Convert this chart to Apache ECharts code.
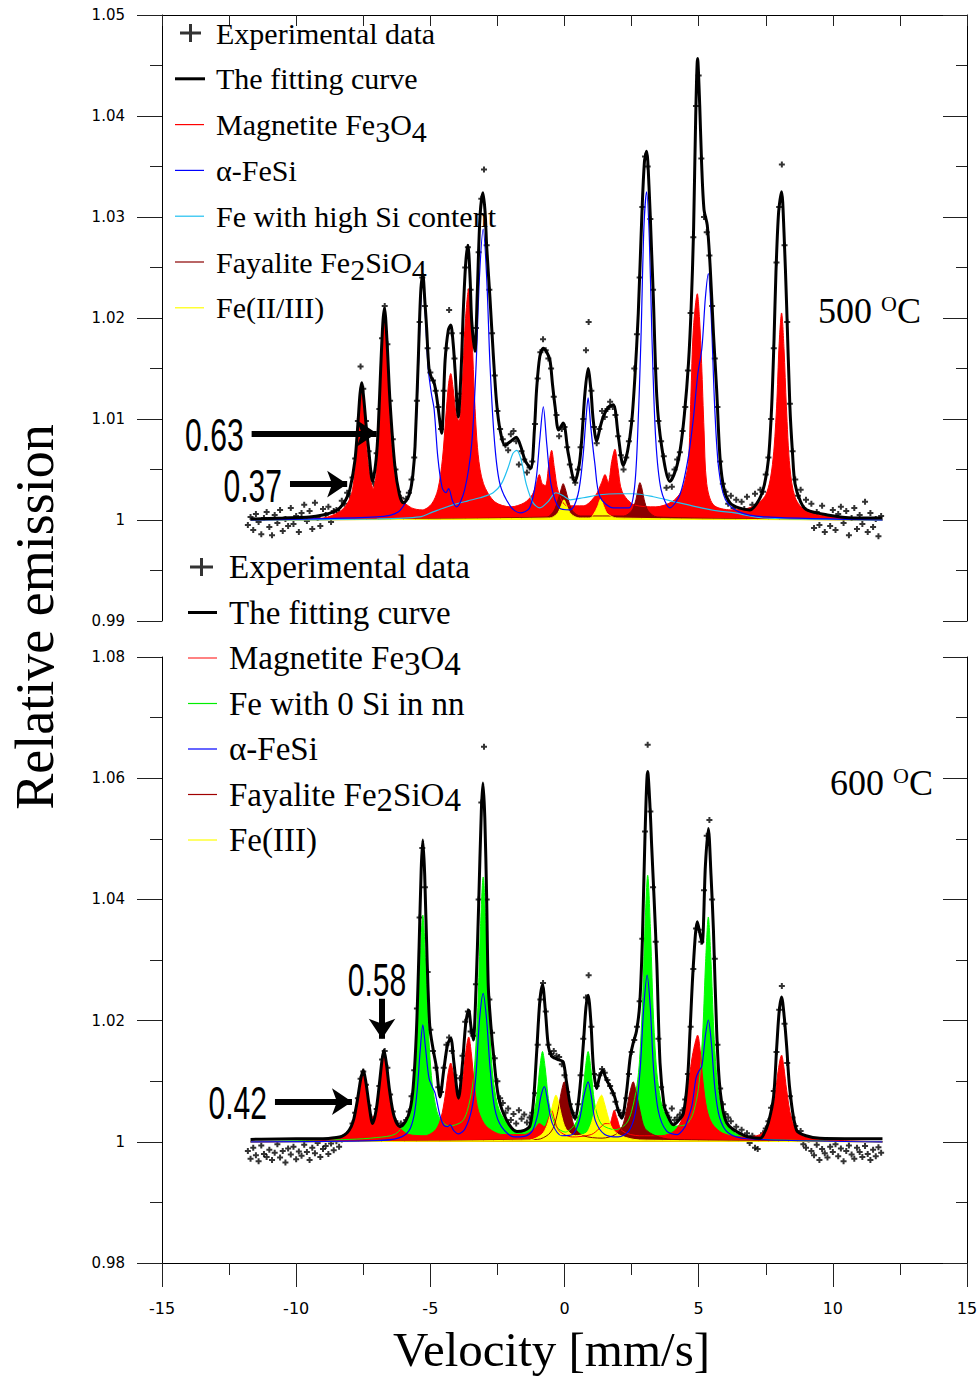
<!DOCTYPE html>
<html>

	<head>
		<meta charset="utf-8">
		<title>Mössbauer 500 / 600 oC</title>
		<script src="https://cdn.jsdelivr.net/npm/echarts@6/dist/echarts.min.js"></script>
		<style>
			body { margin: 0; background: #fff; }
		</style>
	</head>

	<body>
		<div id="res" style="width: 980px;height: 1378px;"></div>
		<script>
			// velocity channels of the measured spectra (mm/s)
			var velStart = -11.8;
			var velStep = 0.1;

			// 500 oC experimental data, one value per channel
			var exp500 = [
				0.9995, 1.0003, 0.9990, 1.0006, 0.9998, 0.9986, 1.0002, 1.0008, 0.9993, 0.9985,
				1.0005, 0.9997, 1.0010, 0.9989, 1.0001, 0.9994, 1.0012, 0.9996, 1.0004, 0.9988,
				1.0007, 1.0015, 0.9999, 1.0009, 0.9991, 1.0017, 1.0002, 0.9994, 1.0011, 1.0005,
				1.0013, 0.9998, 1.0009, 1.0010, 1.0007, 1.0019, 1.0016, 1.0027, 1.0024, 1.0042,
				1.0061, 1.0098, 1.0152, 1.0130, 1.0098, 1.0068, 1.0046, 1.0036, 1.0066, 1.0110,
				1.0180, 1.0212, 1.0174, 1.0118, 1.0080, 1.0050, 1.0028, 1.0022, 1.0010, 1.0021,
				1.0027, 1.0040, 1.0062, 1.0118, 1.0196, 1.0240, 1.0212, 1.0170, 1.0146, 1.0138,
				1.0128, 1.0112, 1.0090, 1.0128, 1.0170, 1.0208, 1.0185, 1.0160, 1.0118, 1.0125,
				1.0185, 1.0250, 1.0270, 1.0228, 1.0180, 1.0190, 1.0265, 1.0318, 1.0347, 1.0272,
				1.0228, 1.0185, 1.0143, 1.0108, 1.0090, 1.0080, 1.0074, 1.0069, 1.0085, 1.0088,
				1.0078, 1.0055, 1.0068, 1.0060, 1.0047, 1.0052, 1.0058, 1.0095, 1.0140, 1.0166,
				1.0179, 1.0168, 1.0160, 1.0150, 1.0122, 1.0104, 1.0083, 1.0090, 1.0092, 1.0072,
				1.0055, 1.0042, 1.0037, 1.0050, 1.0072, 1.0100, 1.0168, 1.0196, 1.0128, 1.0092,
				1.0076, 1.0090, 1.0108, 1.0102, 1.0110, 1.0117, 1.0112, 1.0104, 1.0083, 1.0064,
				1.0050, 1.0062, 1.0078, 1.0098, 1.0150, 1.0184, 1.0240, 1.0310, 1.0360, 1.0350,
				1.0298, 1.0228, 1.0150, 1.0098, 1.0078, 1.0063, 1.0032, 1.0044, 1.0033, 1.0050,
				1.0060, 1.0067, 1.0088, 1.0112, 1.0148, 1.0205, 1.0280, 1.0410, 1.0440, 1.0358,
				1.0300, 1.0285, 1.0262, 1.0212, 1.0160, 1.0112, 1.0058, 1.0036, 1.0028, 1.0016,
				1.0024, 1.0012, 1.0020, 1.0006, 1.0018, 1.0011, 1.0023, 1.0004, 1.0015, 1.0026,
				1.0012, 1.0030, 1.0028, 1.0045, 1.0062, 1.0100, 1.0170, 1.0255, 1.0310, 1.0352,
				1.0272, 1.0196, 1.0115, 1.0068, 1.0040, 1.0024, 1.0030, 1.0012, 1.0020, 1.0004,
				1.0016, 0.9992, 1.0008, 0.9995, 1.0014, 0.9988, 1.0003, 0.9994, 1.0010, 0.9990,
				1.0006, 1.0013, 0.9997, 1.0009, 0.9985, 1.0002, 1.0012, 0.9991, 1.0005, 0.9996,
				1.0018, 0.9988, 1.0007, 0.9993, 1.0001, 0.9984, 1.0004
			];

			// 600 oC experimental data, one value per channel
			var exp600 = [
				0.9985, 0.9972, 0.9990, 0.9978, 0.9968, 0.9994, 0.9980, 0.9975, 0.9987, 0.9970,
				0.9982, 0.9996, 0.9974, 0.9985, 0.9966, 0.9989, 0.9979, 0.9992, 0.9971, 0.9984,
				0.9977, 0.9995, 0.9983, 0.9970, 0.9990, 0.9981, 0.9998, 0.9975, 0.9988, 0.9993,
				0.9980, 0.9997, 0.9986, 1.0001, 0.9992, 1.0004, 1.0008, 1.0012, 1.0016, 1.0030,
				1.0048, 1.0072, 1.0104, 1.0116, 1.0094, 1.0060, 1.0040, 1.0032, 1.0054, 1.0092,
				1.0136, 1.0150, 1.0122, 1.0078, 1.0050, 1.0034, 1.0024, 1.0030, 1.0028, 1.0036,
				1.0050, 1.0075, 1.0118, 1.0220, 1.0370, 1.0485, 1.0420, 1.0280, 1.0185, 1.0150,
				1.0122, 1.0090, 1.0082, 1.0122, 1.0160, 1.0172, 1.0150, 1.0110, 1.0076, 1.0105,
				1.0142, 1.0198, 1.0215, 1.0182, 1.0175, 1.0260, 1.0400, 1.0560, 1.0652, 1.0400,
				1.0235, 1.0180, 1.0138, 1.0100, 1.0072, 1.0064, 1.0048, 1.0055, 1.0036, 1.0046,
				1.0030, 1.0052, 1.0038, 1.0045, 1.0032, 1.0040, 1.0048, 1.0080, 1.0160, 1.0235,
				1.0262, 1.0215, 1.0160, 1.0145, 1.0150, 1.0142, 1.0140, 1.0128, 1.0110, 1.0082,
				1.0062, 1.0048, 1.0040, 1.0062, 1.0110, 1.0170, 1.0238, 1.0275, 1.0190, 1.0112,
				1.0092, 1.0110, 1.0120, 1.0114, 1.0102, 1.0092, 1.0080, 1.0066, 1.0052, 1.0044,
				1.0048, 1.0072, 1.0112, 1.0148, 1.0168, 1.0190, 1.0232, 1.0335, 1.0512, 1.0655,
				1.0545, 1.0420, 1.0330, 1.0170, 1.0090, 1.0060, 1.0048, 1.0040, 1.0055, 1.0036,
				1.0040, 1.0045, 1.0052, 1.0070, 1.0112, 1.0190, 1.0285, 1.0352, 1.0350, 1.0330,
				1.0415, 1.0505, 1.0531, 1.0400, 1.0302, 1.0160, 1.0088, 1.0062, 1.0046, 1.0040,
				1.0034, 1.0018, 1.0025, 1.0012, 1.0020, 1.0006, 1.0014, 0.9998, 1.0010, 0.9990,
				0.9988, 1.0006, 1.0014, 1.0022, 1.0034, 1.0056, 1.0084, 1.0148, 1.0218, 1.0257,
				1.0195, 1.0130, 1.0075, 1.0040, 1.0026, 1.0012, 1.0018, 0.9996, 0.9990, 1.0004,
				0.9985, 0.9978, 0.9995, 0.9970, 0.9988, 0.9981, 0.9974, 0.9992, 0.9983, 0.9996,
				0.9976, 0.9989, 0.9968, 0.9985, 0.9994, 0.9979, 0.9972, 0.9990, 0.9983, 0.9975,
				0.9993, 0.9980, 0.9970, 0.9987, 0.9976, 0.9991, 0.9982
			];

			// 500 oC: fitting curve and sub-spectra, [velocity, relative emission]
			var fit500 = [[-11.7,1.0001],[-10.5,1.0002],[-9.5,1.0003],[-9.0,1.0005],[-8.6,1.0008],[-8.37,1.0012],[-8.15,1.0020],[-8.0,1.0030],[-7.81,1.0059],[-7.7,1.0095],[-7.62,1.0125],[-7.56,1.0136],[-7.48,1.0120],[-7.38,1.0090],[-7.31,1.0073],[-7.15,1.0038],[-7.02,1.0060],[-6.94,1.0092],[-6.85,1.0150],[-6.77,1.0195],[-6.71,1.0210],[-6.62,1.0180],[-6.50,1.0116],[-6.32,1.0053],[-6.15,1.0025],[-6.01,1.0017],[-5.88,1.0020],[-5.76,1.0027],[-5.65,1.0045],[-5.57,1.0073],[-5.45,1.0158],[-5.36,1.0225],[-5.28,1.0243],[-5.20,1.0215],[-5.14,1.0191],[-5.05,1.0150],[-4.95,1.0140],[-4.87,1.0137],[-4.78,1.0125],[-4.70,1.0109],[-4.58,1.0086],[-4.45,1.0158],[-4.33,1.0188],[-4.24,1.0193],[-4.15,1.0175],[-4.08,1.0149],[-3.96,1.0102],[-3.85,1.0150],[-3.77,1.0208],[-3.68,1.0255],[-3.60,1.0272],[-3.52,1.0240],[-3.46,1.0198],[-3.34,1.0167],[-3.25,1.0225],[-3.15,1.0300],[-3.04,1.0324],[-2.96,1.0305],[-2.90,1.0271],[-2.78,1.0221],[-2.65,1.0162],[-2.53,1.0116],[-2.40,1.0089],[-2.22,1.0074],[-2.00,1.0078],[-1.80,1.0082],[-1.62,1.0072],[-1.47,1.0059],[-1.26,1.0051],[-1.12,1.0090],[-1.04,1.0129],[-0.92,1.0162],[-0.79,1.0170],[-0.66,1.0166],[-0.54,1.0158],[-0.45,1.0135],[-0.35,1.0112],[-0.22,1.0089],[-0.05,1.0096],[0.14,1.0066],[0.39,1.0038],[0.55,1.0055],[0.64,1.0079],[0.76,1.0125],[0.88,1.0150],[0.98,1.0130],[1.07,1.0099],[1.20,1.0078],[1.33,1.0092],[1.47,1.0104],[1.65,1.0112],[1.82,1.0114],[2.01,1.0082],[2.19,1.0054],[2.35,1.0068],[2.50,1.0096],[2.62,1.0140],[2.75,1.0205],[2.88,1.0300],[2.98,1.0355],[3.06,1.0365],[3.15,1.0330],[3.24,1.0270],[3.31,1.0221],[3.44,1.0122],[3.62,1.0073],[3.93,1.0038],[4.15,1.0050],[4.31,1.0069],[4.47,1.0105],[4.62,1.0155],[4.72,1.0210],[4.81,1.0287],[4.89,1.0400],[4.96,1.0457],[5.04,1.0410],[5.11,1.0353],[5.20,1.0307],[5.32,1.0292],[5.43,1.0250],[5.55,1.0185],[5.67,1.0129],[5.80,1.0060],[5.95,1.0030],[6.17,1.0017],[6.50,1.0012],[6.91,1.0010],[7.25,1.0020],[7.45,1.0035],[7.60,1.0060],[7.72,1.0112],[7.81,1.0180],[7.88,1.0245],[7.98,1.0305],[8.09,1.0325],[8.18,1.0285],[8.28,1.0211],[8.40,1.0112],[8.50,1.0065],[8.59,1.0036],[8.80,1.0018],[9.03,1.0010],[9.80,1.0005],[10.76,1.0002],[11.85,1.0002]];
			var magnetite500 = [[-11.7,1.0],[-9.0,1.0002],[-8.4,1.0008],[-8.1,1.0016],[-7.9,1.0030],[-7.75,1.0068],[-7.65,1.0105],[-7.56,1.0131],[-7.46,1.0105],[-7.36,1.0068],[-7.24,1.0042],[-7.13,1.0031],[-7.02,1.0045],[-6.92,1.0080],[-6.84,1.0135],[-6.77,1.0182],[-6.71,1.0207],[-6.64,1.0182],[-6.56,1.0130],[-6.45,1.0075],[-6.28,1.0038],[-6.05,1.0020],[-5.7,1.0012],[-5.3,1.0010],[-4.95,1.0016],[-4.72,1.0030],[-4.55,1.0060],[-4.43,1.0100],[-4.32,1.0135],[-4.24,1.0145],[-4.15,1.0130],[-4.04,1.0105],[-3.93,1.0098],[-3.82,1.0130],[-3.70,1.0195],[-3.57,1.0229],[-3.46,1.0190],[-3.36,1.0125],[-3.22,1.0065],[-3.02,1.0036],[-2.6,1.0018],[-2.0,1.0013],[-1.5,1.0017],[-1.2,1.0025],[-1.05,1.0036],[-0.94,1.0045],[-0.83,1.0036],[-0.71,1.0034],[-0.58,1.0056],[-0.48,1.0069],[-0.38,1.0052],[-0.22,1.0027],[0.1,1.0014],[0.7,1.0014],[1.15,1.0024],[1.38,1.0037],[1.51,1.0045],[1.63,1.0037],[1.76,1.0058],[1.88,1.0070],[1.99,1.0052],[2.15,1.0028],[2.6,1.0015],[3.4,1.0013],[4.0,1.0018],[4.35,1.0028],[4.5,1.0040],[4.62,1.0058],[4.71,1.0122],[4.80,1.0188],[4.95,1.0224],[5.03,1.0200],[5.11,1.0155],[5.20,1.0089],[5.30,1.0036],[5.55,1.0015],[6.2,1.0010],[7.0,1.0013],[7.5,1.0025],[7.75,1.0055],[7.90,1.0110],[8.00,1.0175],[8.09,1.0205],[8.18,1.0170],[8.27,1.0112],[8.40,1.0052],[8.60,1.0022],[9.0,1.0009],[10.0,1.0003],[11.85,1.0]];
			var feSi500 = [[-11.7,1.0],[-7.0,1.0003],[-6.2,1.0008],[-5.8,1.0025],[-5.6,1.0060],[-5.48,1.0125],[-5.38,1.0200],[-5.28,1.0243],[-5.18,1.0200],[-5.08,1.0150],[-4.96,1.0125],[-4.86,1.0110],[-4.72,1.0062],[-4.56,1.0032],[-4.42,1.0027],[-4.32,1.0031],[-4.16,1.0018],[-4.02,1.0013],[-3.72,1.0030],[-3.46,1.0075],[-3.30,1.0150],[-3.17,1.0240],[-3.03,1.0288],[-2.90,1.0240],[-2.77,1.0150],[-2.60,1.0075],[-2.40,1.0035],[-2.00,1.0013],[-1.66,1.0007],[-1.30,1.0012],[-1.06,1.0040],[-0.92,1.0080],[-0.79,1.0112],[-0.66,1.0075],[-0.50,1.0035],[-0.20,1.0012],[0.20,1.0010],[0.50,1.0025],[0.68,1.0060],[0.80,1.0100],[0.88,1.0121],[0.98,1.0092],[1.13,1.0056],[1.32,1.0023],[1.82,1.0012],[2.40,1.0012],[2.60,1.0030],[2.72,1.0080],[2.85,1.0180],[2.96,1.0290],[3.06,1.0325],[3.16,1.0280],[3.26,1.0180],[3.40,1.0080],[3.60,1.0030],[3.93,1.0012],[4.30,1.0025],[4.60,1.0060],[4.80,1.0100],[4.97,1.0145],[5.12,1.0170],[5.25,1.0220],[5.36,1.0244],[5.47,1.0200],[5.60,1.0110],[5.75,1.0050],[6.00,1.0020],[6.50,1.0008],[7.50,1.0003],[11.85,1.0]];
			var highSi500 = [[-11.7,1.0],[-7.0,1.0001],[-5.4,1.0003],[-4.9,1.0008],[-4.16,1.0015],[-3.6,1.0019],[-3.15,1.0022],[-2.66,1.0027],[-2.35,1.0036],[-2.1,1.0052],[-1.92,1.0066],[-1.78,1.0069],[-1.62,1.0060],[-1.42,1.0035],[-1.17,1.0017],[-0.92,1.0012],[-0.62,1.0018],[-0.32,1.0027],[-0.05,1.0024],[0.21,1.0020],[0.7,1.0022],[1.32,1.0025],[2.0,1.0026],[2.56,1.0026],[3.31,1.0023],[4.1,1.0018],[4.93,1.0013],[5.7,1.0009],[6.35,1.0007],[6.9,1.0004],[7.4,1.0002],[8.5,1.0001],[11.85,1.0]];
			var fayalite500 = [[-11.7,1.0],[-0.65,1.0003],[-0.40,1.0009],[-0.24,1.0020],[-0.12,1.0031],[-0.05,1.0036],[0.03,1.0031],[0.14,1.0020],[0.30,1.0009],[0.6,1.0004],[2.2,1.0004],[2.5,1.0009],[2.66,1.0020],[2.75,1.0032],[2.81,1.0037],[2.88,1.0032],[2.97,1.0020],[3.12,1.0009],[3.45,1.0003],[11.85,1.0]];
			var fe23_500 = [[-11.7,1.0],[-0.55,1.0002],[-0.28,1.0006],[-0.14,1.0013],[-0.02,1.0020],[0.10,1.0013],[0.24,1.0006],[0.55,1.0002],[0.95,1.0002],[1.09,1.0006],[1.23,1.0013],[1.35,1.0021],[1.47,1.0013],[1.61,1.0006],[1.95,1.0002],[11.85,1.0]];

			// 600 oC: fitting curve and sub-spectra
			var fit600 = [[-11.7,1.0004],[-10.0,1.0005],[-9.0,1.0005],[-8.5,1.0007],[-8.3,1.0009],[-8.1,1.0015],[-7.95,1.0025],[-7.85,1.0038],[-7.72,1.0068],[-7.60,1.0102],[-7.50,1.0118],[-7.40,1.0098],[-7.28,1.0060],[-7.15,1.0030],[-7.02,1.0052],[-6.90,1.0095],[-6.80,1.0135],[-6.73,1.0151],[-6.64,1.0130],[-6.52,1.0085],[-6.35,1.0042],[-6.13,1.0025],[-5.92,1.0034],[-5.76,1.0052],[-5.64,1.0090],[-5.52,1.0180],[-5.42,1.0320],[-5.34,1.0450],[-5.28,1.0498],[-5.21,1.0440],[-5.12,1.0300],[-5.02,1.0190],[-4.89,1.0151],[-4.77,1.0122],[-4.64,1.0074],[-4.50,1.0118],[-4.36,1.0160],[-4.24,1.0171],[-4.12,1.0130],[-3.95,1.0072],[-3.80,1.0130],[-3.68,1.0195],[-3.57,1.0217],[-3.48,1.0188],[-3.40,1.0168],[-3.30,1.0250],[-3.20,1.0390],[-3.10,1.0545],[-3.04,1.0592],[-2.97,1.0535],[-2.90,1.0400],[-2.84,1.0256],[-2.74,1.0190],[-2.65,1.0146],[-2.46,1.0074],[-2.16,1.0036],[-1.78,1.0017],[-1.50,1.0019],[-1.29,1.0026],[-1.16,1.0065],[-1.04,1.0146],[-0.92,1.0232],[-0.82,1.0259],[-0.71,1.0215],[-0.60,1.0157],[-0.48,1.0141],[-0.36,1.0138],[-0.20,1.0135],[-0.05,1.0132],[0.08,1.0097],[0.22,1.0060],[0.39,1.0039],[0.55,1.0078],[0.70,1.0160],[0.80,1.0222],[0.88,1.0242],[0.98,1.0200],[1.08,1.0122],[1.20,1.0088],[1.30,1.0106],[1.42,1.0118],[1.55,1.0104],[1.70,1.0091],[1.85,1.0077],[2.00,1.0052],[2.13,1.0039],[2.30,1.0078],[2.45,1.0140],[2.56,1.0163],[2.68,1.0182],[2.80,1.0225],[2.90,1.0330],[3.00,1.0505],[3.10,1.0611],[3.19,1.0550],[3.25,1.0487],[3.34,1.0400],[3.44,1.0295],[3.56,1.0130],[3.70,1.0064],[3.81,1.0047],[4.06,1.0028],[4.25,1.0035],[4.43,1.0047],[4.58,1.0100],[4.68,1.0184],[4.80,1.0290],[4.95,1.0363],[5.05,1.0343],[5.13,1.0328],[5.25,1.0455],[5.36,1.0517],[5.46,1.0440],[5.55,1.0350],[5.67,1.0184],[5.80,1.0085],[6.05,1.0031],[6.67,1.0011],[7.29,1.0006],[7.41,1.0011],[7.60,1.0032],[7.79,1.0074],[7.91,1.0157],[8.00,1.0215],[8.09,1.0239],[8.18,1.0210],[8.28,1.0157],[8.40,1.0085],[8.65,1.0019],[9.00,1.0010],[9.52,1.0006],[11.85,1.0005]];
			var fe0Si600 = [[-11.7,1.0],[-8.0,1.0004],[-7.0,1.0007],[-6.3,1.0013],[-5.88,1.0037],[-5.68,1.0075],[-5.58,1.0115],[-5.48,1.0187],[-5.38,1.0300],[-5.28,1.0374],[-5.18,1.0300],[-5.08,1.0191],[-4.98,1.0119],[-4.88,1.0079],[-4.68,1.0041],[-4.30,1.0026],[-3.83,1.0033],[-3.63,1.0050],[-3.43,1.0092],[-3.33,1.0138],[-3.23,1.0222],[-3.13,1.0355],[-3.03,1.0437],[-2.93,1.0355],[-2.83,1.0222],[-2.73,1.0140],[-2.63,1.0094],[-2.43,1.0052],[-2.03,1.0025],[-1.60,1.0017],[-1.30,1.0028],[-1.12,1.0051],[-1.02,1.0078],[-0.92,1.0122],[-0.82,1.0149],[-0.72,1.0122],[-0.62,1.0078],[-0.52,1.0051],[-0.30,1.0025],[0.03,1.0016],[0.38,1.0028],[0.58,1.0051],[0.68,1.0078],[0.78,1.0122],[0.88,1.0149],[0.98,1.0122],[1.08,1.0078],[1.18,1.0051],[1.40,1.0028],[1.90,1.0020],[2.30,1.0030],[2.50,1.0050],[2.70,1.0093],[2.80,1.0136],[2.90,1.0222],[3.00,1.0355],[3.10,1.0440],[3.20,1.0355],[3.30,1.0222],[3.40,1.0138],[3.50,1.0092],[3.70,1.0050],[4.10,1.0026],[4.50,1.0028],[4.76,1.0043],[4.96,1.0079],[5.06,1.0118],[5.16,1.0188],[5.26,1.0298],[5.36,1.0371],[5.46,1.0297],[5.56,1.0186],[5.66,1.0115],[5.76,1.0075],[5.96,1.0037],[6.36,1.0014],[7.0,1.0006],[8.0,1.0003],[11.85,1.0]];
			var magnetite600 = [[-11.7,1.0],[-9.0,1.0002],[-8.4,1.0008],[-8.1,1.0015],[-7.9,1.0028],[-7.75,1.0050],[-7.65,1.0078],[-7.58,1.0100],[-7.50,1.0115],[-7.42,1.0098],[-7.32,1.0066],[-7.15,1.0040],[-7.00,1.0055],[-6.90,1.0085],[-6.80,1.0130],[-6.73,1.0148],[-6.65,1.0128],[-6.55,1.0090],[-6.40,1.0050],[-6.20,1.0026],[-5.80,1.0012],[-5.20,1.0010],[-4.80,1.0020],[-4.60,1.0040],[-4.45,1.0075],[-4.34,1.0112],[-4.24,1.0130],[-4.14,1.0112],[-4.02,1.0080],[-3.91,1.0078],[-3.80,1.0100],[-3.68,1.0148],[-3.57,1.0173],[-3.47,1.0145],[-3.35,1.0090],[-3.20,1.0050],[-2.90,1.0025],[-2.30,1.0012],[-1.50,1.0012],[-1.10,1.0022],[-0.94,1.0030],[-0.75,1.0025],[-0.60,1.0038],[-0.48,1.0052],[-0.38,1.0038],[-0.20,1.0018],[0.30,1.0008],[1.00,1.0012],[1.30,1.0022],[1.51,1.0030],[1.68,1.0030],[1.78,1.0042],[1.85,1.0052],[1.95,1.0040],[2.15,1.0018],[2.80,1.0010],[3.60,1.0010],[4.10,1.0018],[4.40,1.0040],[4.60,1.0090],[4.74,1.0135],[4.85,1.0160],[4.96,1.0176],[5.06,1.0150],[5.16,1.0100],[5.30,1.0055],[5.50,1.0030],[5.90,1.0014],[6.60,1.0008],[7.30,1.0012],[7.60,1.0030],[7.80,1.0062],[7.94,1.0110],[8.03,1.0135],[8.09,1.0143],[8.17,1.0125],[8.28,1.0085],[8.45,1.0040],[8.70,1.0015],[9.30,1.0005],[11.85,1.0]];
			var feSi600 = [[-11.7,1.0],[-7.0,1.0002],[-6.2,1.0006],[-5.8,1.0018],[-5.6,1.0045],[-5.48,1.0090],[-5.38,1.0150],[-5.28,1.0193],[-5.18,1.0155],[-5.05,1.0105],[-4.92,1.0090],[-4.82,1.0080],[-4.65,1.0045],[-4.50,1.0027],[-4.36,1.0025],[-4.26,1.0028],[-4.12,1.0018],[-3.95,1.0013],[-3.70,1.0022],[-3.45,1.0055],[-3.30,1.0110],[-3.17,1.0200],[-3.03,1.0245],[-2.90,1.0200],[-2.77,1.0120],[-2.60,1.0055],[-2.35,1.0025],[-1.87,1.0008],[-1.50,1.0009],[-1.20,1.0018],[-1.00,1.0045],[-0.88,1.0075],[-0.75,1.0091],[-0.62,1.0065],[-0.45,1.0030],[-0.10,1.0010],[0.30,1.0012],[0.55,1.0035],[0.72,1.0075],[0.88,1.0099],[1.00,1.0075],[1.15,1.0035],[1.50,1.0012],[2.00,1.0008],[2.40,1.0018],[2.65,1.0050],[2.82,1.0120],[2.95,1.0220],[3.08,1.0275],[3.20,1.0220],[3.32,1.0120],[3.50,1.0050],[3.80,1.0018],[4.20,1.0012],[4.45,1.0022],[4.55,1.0031],[4.75,1.0060],[4.90,1.0105],[5.00,1.0116],[5.12,1.0125],[5.25,1.0175],[5.36,1.0201],[5.47,1.0165],[5.60,1.0090],[5.78,1.0040],[6.10,1.0015],[6.80,1.0005],[11.85,1.0]];
			var fayalite600 = [[-11.7,1.0],[-1.0,1.0004],[-0.6,1.0012],[-0.4,1.0025],[-0.25,1.0050],[-0.12,1.0082],[-0.01,1.0099],[0.10,1.0080],[0.22,1.0050],[0.40,1.0022],[0.70,1.0010],[1.40,1.0006],[1.90,1.0012],[2.15,1.0025],[2.30,1.0050],[2.44,1.0082],[2.56,1.0099],[2.68,1.0080],[2.82,1.0050],[3.00,1.0022],[3.40,1.0010],[4.00,1.0004],[11.85,1.0]];
			var fe3_600 = [[-11.7,1.0],[-1.3,1.0003],[-0.85,1.0012],[-0.65,1.0027],[-0.50,1.0050],[-0.40,1.0068],[-0.32,1.0077],[-0.22,1.0065],[-0.12,1.0045],[0.05,1.0022],[0.40,1.0010],[0.80,1.0014],[0.98,1.0028],[1.12,1.0050],[1.26,1.0068],[1.38,1.0077],[1.48,1.0065],[1.60,1.0045],[1.78,1.0022],[2.10,1.0010],[2.80,1.0003],[11.85,1.0]];

			// arrows with area ratios: label, tail [v, y], head [v, y]
			var arrows500 = [
				['0.63', [-11.66, 1.00858], [-7.0, 1.00858]],
				['0.37', [-10.23, 1.00356], [-8.1, 1.00356]]
			];
			var arrows600 = [
				['0.58', [-6.8, 1.0236], [-6.8, 1.0170]],
				['0.42', [-10.79, 1.00662], [-7.92, 1.00662]]
			];

			var legendTop = ['Experimental data', 'The fitting curve', 'Magnetite Fe3O4', 'α-FeSi', 'Fe with high Si content', 'Fayalite Fe2SiO4', 'Fe(II/III)'];
			var legendBottom = ['Experimental data', 'The fitting curve', 'Magnetite Fe3O4', 'Fe with 0 Si in nn', 'α-FeSi', 'Fayalite Fe2SiO4', 'Fe(III)'];

			var serif = '"Liberation Serif", "Times New Roman", serif';
			var sans = '"DejaVu Sans", sans-serif';

			function withVelocity(vals) {
				var out = [];
				for(var i = 0; i < vals.length; i++) {
					out.push([+(velStart + i * velStep).toFixed(2), vals[i]]);
				}
				return out;
			}

			var plusMark = 'path://M0,2H6V4H0ZM2,0H4V6H2Z';

			function areaSeries(name, data, color, xi, yi) {
				return {
					name: name, type: 'line', xAxisIndex: xi, yAxisIndex: yi,
					data: data, symbol: 'none', smooth: 0.3,
					lineStyle: { color: color, width: 1 },
					itemStyle: { color: color },
					areaStyle: { color: color, opacity: 1, origin: 1 }
				};
			}

			function lineSeries(name, data, color, width, xi, yi) {
				return {
					name: name, type: 'line', xAxisIndex: xi, yAxisIndex: yi,
					data: data, symbol: 'none', smooth: 0.3,
					lineStyle: { color: color, width: width },
					itemStyle: { color: color }
				};
			}

			function expSeries(data, xi, yi) {
				return {
					name: 'Experimental data', type: 'scatter', xAxisIndex: xi, yAxisIndex: yi,
					data: withVelocity(data), symbol: plusMark, symbolSize: 6,
					itemStyle: { color: '#000' }
				};
			}

			function arrowLines(list) {
				var data = [];
				for(var i = 0; i < list.length; i++) {
					data.push([{ name: list[i][0], coord: list[i][1] }, { coord: list[i][2] }]);
				}
				return {
					silent: true,
					symbol: ['none', 'arrow'],
					symbolSize: 20,
					lineStyle: { color: '#000', width: 6, type: 'solid' },
					label: { show: false },
					emphasis: { disabled: true },
					data: data
				};
			}

			var fitTop = lineSeries('The fitting curve', fit500, '#000', 3, 0, 0);
			fitTop.markLine = arrowLines(arrows500);
			var fitBottom = lineSeries('The fitting curve', fit600, '#000', 3, 1, 2);
			fitBottom.markLine = arrowLines(arrows600);

			function legendItems(names, plus, thick, thin, colors) {
				var out = [];
				for(var i = 0; i < names.length; i++) {
					out.push({
						name: names[i],
						icon: i === 0 ? plus : (i === 1 ? thick : thin),
						itemStyle: { color: colors[i], borderWidth: 0 }
					});
				}
				return out;
			}

			function chem(name) {
				if(name === 'Magnetite Fe3O4') return 'Magnetite Fe{s|3}O{s|4}';
				if(name === 'Fayalite Fe2SiO4') return 'Fayalite Fe{s|2}SiO{s|4}';
				return name;
			}

			function axisY(idx, min, max, step, right) {
				return {
					type: 'value', gridIndex: idx, min: min, max: max, interval: step,
					position: right ? 'right' : 'left',
					axisLine: { show: true, onZero: false, lineStyle: { color: '#000', width: 1 } },
					axisTick: { show: true, inside: !!right, length: right ? 24 : 25, lineStyle: { color: '#222' } },
					minorTick: { show: true, splitNumber: 2, length: right ? 11 : 12, lineStyle: { color: '#222' } },
					axisLabel: { show: !right, margin: 37, fontFamily: sans, fontSize: 15, color: '#000' },
					splitLine: { show: false },
					minorSplitLine: { show: false }
				};
			}

			function tempLabel(text, x, y) {
				return {
					type: 'text', x: x, y: y,
					style: {
						text: '{n|' + text + ' }{o|O}{n|C}', verticalAlign: 'middle', textVerticalAlign: 'middle',
						rich: {
							n: { fontFamily: serif, fontSize: 36, lineHeight: 38, fill: '#000' },
							o: { fontFamily: serif, fontSize: 22, lineHeight: 34, verticalAlign: 'top', fill: '#000' }
						}
					}
				};
			}

			var myChart = echarts.init(document.getElementById('res'), null, { renderer: 'svg' });
			var option = {
				animation: false,
				backgroundColor: '#fff',
				grid: [
					{ left: 162, right: 13, top: 15, height: 606, outerBoundsMode: 'none' },
					{ left: 162, right: 13, top: 657, height: 606, outerBoundsMode: 'none' }
				],
				xAxis: [{
					type: 'value', gridIndex: 0, position: 'top', min: -15, max: 15, interval: 2.5,
					axisLine: { show: true, onZero: false, lineStyle: { color: '#000', width: 1 } },
					axisTick: { show: true, inside: true, length: 11, lineStyle: { color: '#222' } },
					axisLabel: { show: false },
					splitLine: { show: false }
				}, {
					type: 'value', gridIndex: 1, position: 'bottom', min: -15, max: 15, interval: 5,
					axisLine: { show: true, onZero: false, lineStyle: { color: '#000', width: 1 } },
					axisTick: { show: true, length: 24, lineStyle: { color: '#222' } },
					minorTick: { show: true, splitNumber: 2, length: 12, lineStyle: { color: '#222' } },
					axisLabel: { margin: 37, fontFamily: sans, fontSize: 16, color: '#000' },
					splitLine: { show: false },
					minorSplitLine: { show: false },
					name: 'Velocity [mm/s]', nameLocation: 'middle', nameGap: 61,
					nameTextStyle: { fontFamily: serif, fontSize: 49, lineHeight: 50, color: '#000', padding: [0, 26, 0, 0] }
				}],
				yAxis: [
					axisY(0, 0.99, 1.05, 0.01, false),
					axisY(0, 0.99, 1.05, 0.01, true),
					axisY(1, 0.98, 1.08, 0.02, false),
					axisY(1, 0.98, 1.08, 0.02, true)
				],
				legend: [{
					orient: 'vertical', left: 175, top: 11, padding: 0, itemWidth: 36, itemHeight: 18, itemGap: 1.8,
					selectedMode: false, formatter: chem,
					textStyle: {
						fontFamily: serif, fontSize: 30, lineHeight: 44, color: '#000',
						rich: { s: { fontFamily: serif, fontSize: 30, lineHeight: 40, verticalAlign: 'bottom', color: '#000' } }
					},
					data: legendItems(legendTop,
						'path://M0,0M36,18M5,7.5H26V10.5H5ZM14,0H17V18H14Z',
						'path://M0,0M36,18M0,7.5H30V10.5H0Z',
						'path://M0,0M36,18M0,8.4H29V9.6H0Z',
						['#000', '#000', '#ff0000', '#0000ff', '#20c0f0', '#8b0000', '#ffff00'])
				}, {
					orient: 'vertical', left: 188, top: 545, padding: 0, itemWidth: 36, itemHeight: 18, itemGap: 1.5,
					selectedMode: false, formatter: chem,
					textStyle: {
						fontFamily: serif, fontSize: 33, lineHeight: 44, color: '#000',
						rich: { s: { fontFamily: serif, fontSize: 33, lineHeight: 40, verticalAlign: 'bottom', color: '#000' } }
					},
					data: legendItems(legendBottom,
						'path://M0,0M36,18M2,7.5H25V10.5H2ZM12,0H15V18H12Z',
						'path://M0,0M36,18M0,7.5H29V10.5H0Z',
						'path://M0,0M36,18M0,8.4H29V9.6H0Z',
						['#000', '#000', '#ff3030', '#00ee00', '#0000ff', '#a00000', '#ffff00'])
				}],
				graphic: [{
					type: 'text', x: 35, y: 617, rotation: Math.PI / 2,
					style: {
						text: 'Relative emission', fontFamily: serif, fontSize: 54, fill: '#000',
						align: 'center', verticalAlign: 'middle', textAlign: 'center', textVerticalAlign: 'middle'
					}
				},
					tempLabel('500', 818, 311),
					tempLabel('600', 830, 783)
				],
				series: [
					areaSeries('Magnetite Fe3O4', magnetite500, '#ff0000', 0, 0),
					areaSeries('Fayalite Fe2SiO4', fayalite500, '#8b0000', 0, 0),
					areaSeries('Fe(II/III)', fe23_500, '#ffff00', 0, 0),
					lineSeries('Fe with high Si content', highSi500, '#20c0f0', 1.2, 0, 0),
					lineSeries('α-FeSi', feSi500, '#0000ff', 1.2, 0, 0),
					fitTop,
					expSeries(exp500, 0, 0),

					areaSeries('Fe with 0 Si in nn', fe0Si600, '#00ff00', 1, 2),
					areaSeries('Magnetite Fe3O4', magnetite600, '#ff0000', 1, 2),
					areaSeries('Fayalite Fe2SiO4', fayalite600, '#8b0000', 1, 2),
					areaSeries('Fe(III)', fe3_600, '#ffff00', 1, 2),
					lineSeries('α-FeSi', feSi600, '#0000ff', 1.2, 1, 2),
					fitBottom,
					expSeries(exp600, 1, 2)
				]
			};
			myChart.setOption(option);

			// ratio labels sit at the tail of each arrow, narrow and tall like the original
			function ratioLabel(item, finder) {
				var tail = myChart.convertToPixel(finder, item[1]);
				var vertical = item[1][0] === item[2][0];
				return {
					type: 'text', x: vertical ? tail[0] - 5 : tail[0] - 8, y: vertical ? tail[1] + 4 : tail[1] + 1,
					scaleX: 0.64,
					style: {
						text: item[0], fontFamily: '"Liberation Sans", Arial, sans-serif', fontSize: 47, fill: '#000',
						align: vertical ? 'center' : 'right', textAlign: vertical ? 'center' : 'right',
						verticalAlign: vertical ? 'bottom' : 'middle', textVerticalAlign: vertical ? 'bottom' : 'middle'
					}
				};
			}
			for(var i = 0; i < arrows500.length; i++) {
				option.graphic.push(ratioLabel(arrows500[i], { xAxisIndex: 0, yAxisIndex: 0 }));
			}
			for(var j = 0; j < arrows600.length; j++) {
				option.graphic.push(ratioLabel(arrows600[j], { xAxisIndex: 1, yAxisIndex: 2 }));
			}
			myChart.setOption(option);
		</script>
	</body>

</html>
